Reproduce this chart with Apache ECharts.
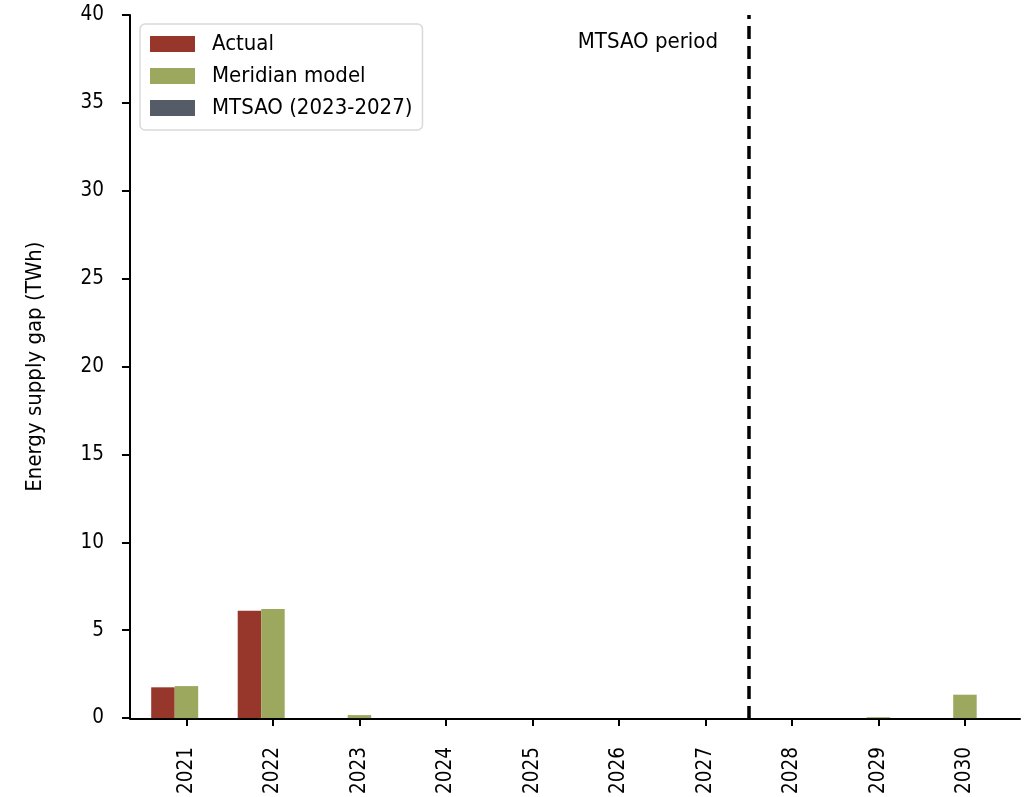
<!DOCTYPE html>
<html>
<head>
<meta charset="utf-8">
<style>
  html, body { margin: 0; padding: 0; background: #fff; }
  #chart { width: 1026px; height: 797px; }
</style>
<script src="https://cdn.jsdelivr.net/npm/echarts@6/dist/echarts.min.js"></script>
</head>
<body>
<div id="chart"></div>
<script>
// Energy supply gap by year (TWh)
const years = ['2021', '2022', '2023', '2024', '2025', '2026', '2027', '2028', '2029', '2030'];
const actualGap = [1.75, 6.1, null, null, null, null, null, null, null, null];
const meridianGap = [1.82, 6.2, 0.17, null, null, null, null, null, 0.05, 1.33];
const mtsaoGap = [null, null, 0, 0, 0, 0, 0, null, null, null];
const seriesNames = ['Actual', 'Meridian model', 'MTSAO (2023-2027)'];
const yTicks = { min: 0, max: 40, step: 5 };
const periodBoundary = 6.5; // between 2027 and 2028
const periodLabel = 'MTSAO period';

const FONT = "'DejaVu Sans Condensed', 'DejaVu Sans', Verdana, sans-serif";
const TITLE_FONT = "'DejaVu Sans Condensed', 'Liberation Sans Narrow', sans-serif";
const colors = ['#97362B', '#9DA85F', '#555B67'];

// plot geometry
const axisLeft = 130, axisRight = 1020, plotTop = 15, plotBottom = 719;
const bandLeft = 143.2, bandRight = 1008.2;
const W = 1026, H = 797;
const bw = (bandRight - bandLeft) / years.length;
const overlayMin = (axisLeft - bandLeft) / bw - 0.5;
const overlayMax = (axisRight - bandLeft) / bw - 0.5;

const chart = echarts.init(document.getElementById('chart'), null, { renderer: 'canvas' });

const barSeries = [actualGap, meridianGap, mtsaoGap].map((vals, i) => ({
  name: seriesNames[i],
  type: 'bar',
  xAxisIndex: 0,
  yAxisIndex: 0,
  data: vals,
  barWidth: 23.5,
  barGap: '0%',
  itemStyle: { color: colors[i] },
  z: 2
}));

chart.setOption({
  animation: false,
  backgroundColor: '#fff',
  grid: [
    { left: bandLeft, right: W - bandRight, top: plotTop, bottom: H - plotBottom },
    { left: axisLeft, right: W - axisRight, top: plotTop, bottom: H - plotBottom }
  ],
  legend: {
    data: seriesNames,
    orient: 'vertical',
    left: 140,
    top: 24,
    padding: [9, 10, 11, 10],
    itemWidth: 45,
    itemHeight: 16,
    itemGap: 10,
    icon: 'rect',
    borderColor: '#d9d9d9',
    borderWidth: 1.5,
    borderRadius: 5,
    backgroundColor: '#fff',
    textStyle: { fontFamily: FONT, fontSize: 22, color: '#000', padding: [0, 0, 0, 12] }
  },
  xAxis: [
    {
      type: 'category',
      gridIndex: 0,
      data: years,
      boundaryGap: true,
      axisLine: { show: false },
      axisTick: { show: true, alignWithLabel: true, length: 8, lineStyle: { color: '#000', width: 2 } },
      axisLabel: { rotate: 90, margin: 29, fontFamily: FONT, fontSize: 20.5, color: '#000' },
      splitLine: { show: false }
    },
    {
      type: 'value',
      gridIndex: 1,
      min: overlayMin,
      max: overlayMax,
      axisLine: { show: true, lineStyle: { color: '#000', width: 2 } },
      axisTick: { show: false },
      axisLabel: { show: false },
      splitLine: { show: false }
    }
  ],
  yAxis: [
    {
      type: 'value',
      gridIndex: 0,
      min: yTicks.min,
      max: yTicks.max,
      interval: yTicks.step,
      offset: bandLeft - axisLeft,
      name: 'Energy supply gap (TWh)',
      nameLocation: 'middle',
      nameGap: 84,
      nameTextStyle: { fontFamily: TITLE_FONT, fontSize: 22, color: '#000' },
      axisLine: { show: true, lineStyle: { color: '#000', width: 2 } },
      axisTick: { show: true, length: 8, lineStyle: { color: '#000', width: 2 } },
      axisLabel: { margin: 26, fontFamily: FONT, fontSize: 20.5, color: '#000' },
      splitLine: { show: false }
    },
    {
      type: 'value',
      gridIndex: 1,
      min: yTicks.min,
      max: yTicks.max,
      show: false
    }
  ],
  graphic: [
    {
      type: 'text',
      right: W - 718,
      top: 31,
      style: { text: periodLabel, fontFamily: FONT, fontSize: 22, fill: '#000' }
    }
  ],
  series: barSeries.concat([
    {
      name: 'period',
      type: 'line',
      xAxisIndex: 1,
      yAxisIndex: 1,
      data: [],
      silent: true,
      markLine: {
        symbol: 'none',
        silent: true,
        label: { show: false },
        lineStyle: { color: '#000', width: 3.5, type: [13, 7] },
        data: [{ xAxis: periodBoundary }]
      }
    }
  ])
});
</script>
</body>
</html>
